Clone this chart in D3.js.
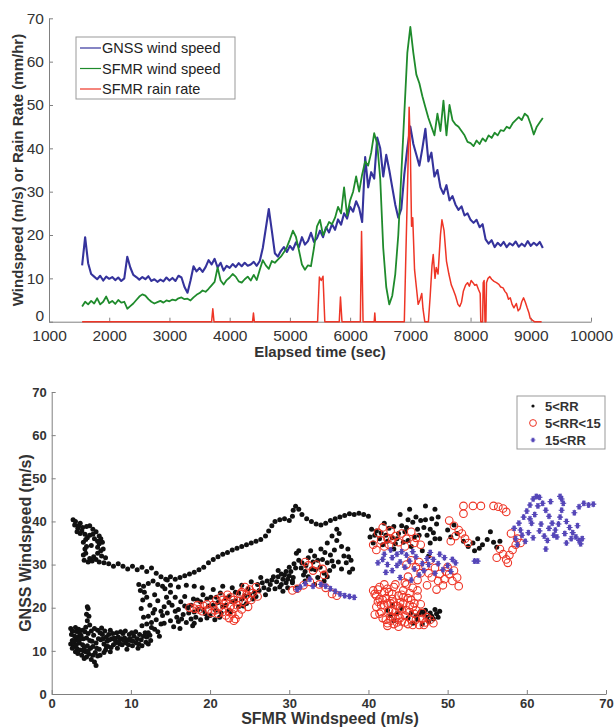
<!DOCTYPE html>
<html>
<head>
<meta charset="utf-8">
<script src="https://cdn.jsdelivr.net/npm/d3@7"></script>
<style>
  html, body { margin: 0; padding: 0; background: #fff; }
  svg { display: block; font-family: "Liberation Sans", Arial, sans-serif; }
</style>
</head>
<body>
<div id="chart"></div>
<script>
// ---- top panel data ----
const timeSec = [
  1550,1600,1650,1700,1750,1800,1850,1900,1950,2000,
  2050,2100,2150,2200,2250,2300,2350,2400,2450,2500,
  2550,2600,2650,2700,2750,2800,2850,2900,2950,3000,
  3050,3100,3150,3200,3250,3300,3350,3400,3450,3500,
  3550,3600,3650,3700,3750,3800,3850,3900,3950,4000,
  4050,4100,4150,4200,4250,4300,4350,4400,4450,4500,
  4550,4600,4650,4700,4750,4800,4850,4900,4950,5000,
  5050,5100,5150,5200,5250,5300,5350,5400,5450,5500,
  5550,5600,5650,5700,5750,5800,5850,5900,5950,6000,
  6050,6100,6150,6200,6250,6300,6350,6400,6450,6500,
  6550,6600,6650,6700,6750,6800,6850,6900,6950,7000,
  7050,7100,7150,7200,7250,7300,7350,7400,7450,7500,
  7550,7600,7650,7700,7750,7800,7850,7900,7950,8000,
  8050,8100,8150,8200,8250,8300,8350,8400,8450,8500,
  8550,8600,8650,8700,8750,8800,8850,8900,8950,9000,
  9050,9100,9150,9200
];
const gnssWind = [
  13,19.5,13.5,11,10.4,9.8,10.6,9.5,10.4,9.9,
  10.3,9.6,10.2,9.4,10,15,12.5,10.8,10.3,9.7,
  10.3,9.8,10.5,9.4,9.8,9.2,9.7,9.3,10.2,9.5,
  10.1,9.4,10.6,10.2,8,6.7,9.5,12.8,11.6,12.4,
  11.5,12.6,14.2,13.2,14.5,12.5,13.6,11.8,12.9,12.4,
  13.3,12.6,13.5,12.8,13.6,12.9,13.2,13.8,12.9,14,
  17,21.5,26,21,15.8,15,16.3,17.2,16.1,17.5,
  16.6,18.3,17.2,19.5,17.8,18.6,20.5,18.4,19.3,21,
  19.5,21.8,20.6,22.5,21.2,23.6,22.4,25,23.8,26.5,
  25.4,27.8,26.2,23,38,31,34.5,33,42.5,40,
  33.5,38.5,35,31,27,24,26,34,40,45,
  41,38.5,36,40,44.5,37,39,33.5,35,31,
  29.5,31.5,28,29,27,25.8,26.6,24.5,25,23.5,
  22.8,23.5,21.8,22.5,19,18,18.8,17.2,18.2,17.5,
  18.4,17.2,18.1,17.6,18.5,17.3,18,17.4,18.6,17.5,
  18.2,17.6,18.4,17
];
const sfmrWind = [
  3.5,4.6,4,4.8,4.2,5.4,4,4.6,5.8,4.3,
  4.8,4.1,5,4.4,4.6,3,3.6,4.2,5,5.8,
  6.3,6,5.2,4.6,4.2,4.5,4.8,4.4,4.9,4.7,
  5.1,4.9,5.4,5.6,5.2,5.3,4.9,5.6,6.2,6.6,
  7.2,6.9,7.6,8.4,9.2,12.5,9.5,8.6,9.6,10.2,
  11,10.4,9.3,9,9.8,10.4,9.5,10.8,9.6,12,
  14.2,13,12.2,14,13.6,14.3,15,16,17.2,19,
  21,19.6,16.5,13.2,12,13,12.8,17,22,23.5,
  20,21.5,23,22.5,24,26.5,25,31,24.5,28,
  30,33.5,30,34,37,36,39,43.5,41,33,
  17,8,4,6,11,20,34,48,62,68,
  62,57,55,52,49.5,47,45,43,48,44,
  51,43,50,46.5,45.5,45,44,43,41.5,41.2,
  40.5,41.8,41,42.3,41.6,43,42.4,43.6,43,44.2,
  44,45,44.6,45.8,46.5,47.2,46.5,48,47.4,45.5,
  43.2,45,46,47
];
const rainTime = [
  1550,3700,3720,3740,4380,4395,4410,5460,5490,5520,5550,5580,5820,5840,5865,
  6170,6190,6215,6400,6410,6420,6900,6925,6960,6980,7000,7020,7040,7070,7100,
  7130,7160,7190,7210,7240,7300,7330,7360,7380,7410,7430,7460,7500,7525,7560,
  7600,7640,7680,7710,7750,7790,7820,7850,7880,7920,7950,7980,8010,8040,8070,
  8100,8130,8160,8170,8200,8210,8225,8240,8255,8265,8290,8320,8350,8390,8430,
  8470,8500,8540,8570,8600,8630,8660,8690,8720,8760,8790,8820,8850,8880,8910,
  8940,8970,8990,9030,9060,9180
];
const rainRate = [
  0,0,3,0,0,2,0,0,10.3,9.5,10.5,0,0,5.7,0,
  0,20.8,0,0,2,0,0,15,35,49.5,40,22,24,12,8,
  4,5,6.5,3,0,0,6,13,15.5,10,12.5,11,20,23.5,21,
  14,11,8.5,7.5,6,4,3.5,4.5,7,8.5,9,8.2,9.5,9,8.4,
  8.6,7.5,6.5,0,0,9,9.5,0,0,9,10,10.4,9.8,9.3,9,
  8.6,8,7.8,7,6.5,5.2,5.5,4,3.2,4.2,2.5,3,4.6,5.5,4.5,
  3.2,2,0.8,0.3,0,0
];
const seriesNames = ['GNSS wind speed', 'SFMR wind speed', 'SFMR rain rate'];
const seriesColors = ['#35339c', '#1f8b2c', '#ee3526'];
const timeTicks = [1000,2000,3000,4000,5000,6000,7000,8000,9000,10000];
const speedTicks = [0,10,20,30,40,50,60,70];

// ---- bottom panel data: [SFMR windspeed, GNSS windspeed] ----
const lightRain = [
  [2.4,15.2],[2.5,13.8],[2.6,12.4],[2.4,11.6],[2.8,11],[3.0,12.6],[3.1,14.5],[3.3,13.2],[3.5,11.8],[3.2,10.5],
  [3.6,10.2],[3.9,11.4],[4.0,12.8],[4.2,14.4],[4.4,13.0],[4.5,11.2],[4.3,9.8],[4.7,9.2],[4.9,10.6],[5.1,12.2],
  [5.3,13.6],[5.0,14.6],[5.6,11.8],[5.5,9.6],[5.4,7.4],[5.6,6.6],[5.8,8.8],[6.0,10.4],[6.2,12.6],[6.4,13.8],
  [6.6,11.6],[6.8,10.2],[7.0,12.2],[7.2,13.8],[7.4,14.8],[7.6,12.8],[7.8,11.4],[8.0,12.6],[8.2,14.2],[8.4,13.2],
  [8.6,11.6],[8.8,12.8],[9.0,14.0],[9.2,13.0],[9.4,11.8],[9.6,12.6],[9.8,13.8],[10.0,12.4],[10.2,11.2],[10.4,13.4],
  [10.6,14.4],[10.8,12.8],[11.0,11.6],[11.3,12.6],[11.6,13.4],[11.9,12.0],[12.2,11.6],[12.5,12.4],
  [4.3,15.5],[4.5,17],[4.4,18.5],[4.6,19.8],[4.5,20.2],[4.7,18],[4.8,16],
  [3.0,9.8],[3.8,9.0],[4.1,8.2],[5.0,8.0],[6.1,9.0],[6.9,11.0],[7.5,10.8],[8.3,10.6],[9.5,10.4],[10.9,10.6],
  [2.9,13.4],[3.4,15.0],[5.8,14.8],[6.3,15.3],
  [2.6,14.6],[2.8,12.0],[3.1,11.4],[3.4,12.2],[3.7,13.6],[3.9,14.8],[3.5,14.2],[3.0,15.4],[4.1,10.6],[4.6,10.0],
  [4.8,12.4],[5.2,11.0],[5.2,9.0],[5.7,10.6],[5.9,12.8],[6.1,14.2],[6.5,12.8],[6.7,14.6],[6.9,13.2],[7.1,11.0],
  [7.3,12.6],[7.7,14.0],[7.9,13.0],[8.1,11.8],[8.5,12.2],[8.7,14.4],[8.9,11.4],[9.1,12.4],[9.3,14.6],[9.7,11.4],
  [9.9,12.8],[10.1,14.2],[10.3,12.2],[10.7,11.8],[11.1,13.8],[11.4,11.2],[11.8,14.2],[12.0,13.2],[12.4,13.6],[4.6,14.0],
  [5.4,15.2],[3.6,12.8],[4.0,10.0],[6.6,9.6],[7.4,9.8],[2.6,10.6],[3.3,9.4],[4.4,8.6],
  [11.4,15.8],[11.6,17.8],[11.3,19.8],[11.5,21.8],[11.7,23.6],[12.0,22.4],[12.4,20.6],[12.8,18.8],[12.6,16.6],[13.0,15.0],
  [13.4,14.4],[13.8,16.2],[14.0,18.2],[14.2,20.2],[14.5,22.4],[14.3,24.4],[14.6,26.4],[14.8,21.2],[15.0,17.0],[15.4,15.6],
  [15.8,17.8],[16.0,19.6],[16.3,21.4],[16.6,18.4],[17.0,16.6],[17.3,18.8],[17.6,20.6],[17.9,22.0],[18.2,17.8],[18.5,19.6],
  [18.8,21.4],[19.1,23.0],[19.4,18.6],[19.8,20.4],[20.1,22.4],[20.4,24.2],[20.7,19.4],[21.0,21.2],[21.3,23.4],[21.6,25.0],
  [22.0,20.6],[22.4,22.6],[22.8,24.6],[23.2,21.6],[23.6,23.4],[24.0,25.2],[24.4,22.8],[24.8,24.4],[25.2,26.0],[25.6,23.6],
  [26.0,25.4],[26.4,27.0],[26.8,24.6],[27.2,26.2],[27.6,25.4],[28.0,27.2],[28.4,26.0],[28.8,24.8],[29.2,26.6],[29.6,25.8],
  [30.0,27.4],[30.4,26.2],
  [13.2,17.2],[15.6,19.2],[16.8,20.4],[18.0,16.4],[19.6,17.6],[21.4,18.8],[12.2,14.2],[13.6,13.4],[16.2,15.2],[17.8,15.8],
  [22.6,19.0],[24.2,20.4],[25.4,22.0],[27.0,23.0],[20.6,17.2],
  [12.6,15.4],[13.0,19.6],[13.4,21.6],[13.8,19.2],[14.2,16.4],[14.6,18.8],[15.2,20.6],[15.6,22.4],[16.0,16.8],[16.4,17.4],
  [16.8,22.6],[17.2,20.0],[17.6,17.4],[18.0,19.0],[18.4,21.8],[18.8,17.2],[19.2,19.4],[19.6,22.0],[20.0,18.2],[20.4,20.6],
  [20.8,22.4],[21.2,17.8],[21.6,20.2],[22.0,22.2],[22.4,19.4],[22.8,21.4],[23.2,23.6],[23.6,20.2],[24.0,22.0],[24.6,21.0],
  [25.0,23.0],[25.8,22.6],[26.2,24.0],[26.6,25.8],[27.4,24.2],[27.8,26.4],[28.2,24.4],[28.6,27.2],[29.0,25.4],[29.4,27.6],
  [29.8,26.6],[15.0,23.6],[13.0,23.0],[12.2,18.0],[12.0,16.2],
  [2.7,40.4],[2.9,39.2],[3.3,38.4],[3.6,37.2],[3.9,38.6],[4.2,37.0],[4.5,36.2],[4.0,35.2],[4.2,33.6],[4.0,32.2],
  [4.1,31.0],[4.6,30.6],[5.1,30.8],[5.6,31.2],[6.0,30.6],[6.3,32.0],[6.5,33.6],[6.4,35.2],[6.0,36.6],[5.6,37.6],
  [5.2,38.2],[4.8,39.0],[5.4,36.0],[5.0,34.4],[5.8,34.0],[6.8,31.6],[3.6,39.6],[4.4,38.8],
  [3.0,40.0],[3.4,39.0],[3.8,37.8],[4.3,35.8],[4.4,34.2],[4.3,32.6],[4.8,31.4],[5.3,31.8],[5.8,32.6],[6.2,33.2],
  [6.0,34.8],[6.2,36.0],[5.8,35.4],[5.2,37.0],[4.8,36.8],[3.2,37.6],[6.6,30.4],
  [7.2,30.2],[7.8,29.6],[8.4,30.2],[9.0,29.6],[9.6,29.0],[10.2,29.6],[10.8,28.8],[11.4,29.4],[12.0,28.4],[12.6,29.2],
  [13.2,28.0],[13.8,27.2],[14.4,26.6],[15.0,27.2],[15.6,26.6],[16.2,27.0],[16.8,27.4],[17.4,27.8],[18.0,28.2],[18.6,28.8],
  [19.2,29.4],[19.8,30.4],[20.4,31.2],[21.0,31.8],[21.6,32.4],[22.2,32.8],[22.8,33.4],[23.4,33.8],[24.0,34.2],[24.6,34.6],
  [25.2,35.0],[25.8,35.4],[26.4,35.8],[27.0,36.6],[27.4,37.8],[27.8,39.0],[28.2,40.0],[28.8,40.4],[29.4,40.6],[30.0,40.2],
  [30.4,41.2],[30.5,42.6],[30.8,43.5],[31.2,42.8],[31.6,41.6],[32.2,40.6],[32.8,40.0],[33.4,39.4],[34.0,39.2],[34.6,39.6],
  [35.2,40.2],[35.8,40.6],[36.4,41.0],[37.0,41.4],[37.6,41.8],[38.2,41.6],[38.8,41.9],[39.4,41.6],[40.0,41.2],
  [11.0,25.4],[11.6,25.0],[12.2,25.6],[12.8,26.2],[13.4,25.4],[14.0,25.0],[15.0,25.2],[16.0,24.8],[17.0,25.2],[18.0,25.0],
  [19.0,24.6],[11.2,24.0],
  [30.2,28.4],[30.6,30.2],[30.9,32.6],[31.2,31.0],[31.5,29.2],[31.8,27.6],[32.1,29.8],[32.4,31.6],[32.7,33.2],[33.0,30.6],
  [33.3,28.8],[33.6,27.0],[33.9,29.4],[34.2,31.2],[34.5,32.8],[34.8,30.4],[35.1,28.6],[35.4,30.8],[35.7,33.4],[36.0,35.6],
  [36.3,37.2],[36.6,34.2],[36.9,32.0],[37.2,30.4],[37.5,31.8],[34.8,35.0],[35.4,36.6],[36.0,38.2],[32.0,26.2],[33.2,25.4],
  [34.4,26.2],[30.4,25.8],[31.0,24.6],[29.8,24.6],[29.2,23.8],[37.4,33.6],[37.8,31.0],[38.0,29.0],[37.6,28.2],
  [30.5,27.0],[30.8,29.2],[31.2,33.2],[31.6,30.4],[32.0,28.4],[32.4,27.2],[32.8,29.0],[33.2,32.0],[33.6,31.0],[34.0,33.6],
  [34.4,28.0],[34.8,27.2],[35.2,32.2],[35.6,29.6],[36.2,30.6],[36.6,29.0],[30.0,29.4],[29.6,28.4],[29.0,27.8],[28.6,28.6],
  [40.2,36.4],[40.6,35.0],[41.0,37.8],[41.4,36.0],[41.8,34.6],[42.2,36.8],[42.6,38.4],[43.0,36.2],[43.4,34.8],[43.8,37.2],
  [44.2,39.0],[44.6,37.6],[45.0,35.6],[45.4,34.2],[45.8,36.4],[46.2,38.2],[46.6,40.2],[47.0,38.6],[47.4,36.8],[47.8,35.0],
  [48.2,37.4],[48.6,39.4],[48.4,42.8],[48.8,41.0],[49.0,36.0],[44.0,41.6],[45.2,42.8],[46.0,41.0],[47.2,43.6],[43.2,33.6],
  [46.8,33.2],[47.6,32.0],
  [40.4,38.2],[40.8,36.8],[41.6,37.4],[42.4,35.4],[43.2,38.8],[43.6,36.0],[44.4,35.2],[44.8,38.6],[45.6,39.8],[46.4,36.8],
  [47.2,40.4],[47.8,38.2],[48.4,36.0],[48.0,40.6],[42.0,39.6],[45.0,40.4],
  [50.0,38.0],[50.4,36.4],[50.8,39.2],[51.2,37.2],[52.0,35.4],[52.6,34.2],[53.2,35.0],[53.8,36.0],[54.4,34.6],[55.0,35.8],
  [55.4,37.6],[55.8,35.2],[56.2,34.0],[56.6,35.4],[54.0,33.8],[53.4,33.2],
  [42.4,19.4],[42.8,18.2],[43.2,17.0],[43.6,18.6],[44.2,19.8],[45.0,17.6],[45.6,16.4],[46.2,17.2],[46.8,16.2],[47.4,17.8],
  [47.8,18.8],[48.2,17.4],[48.6,18.6],[49.0,19.2],[46.4,18.6],[45.4,18.8],[43.0,20.6],
  [46.6,19.2],[47.0,18.6],[47.6,16.8],[48.0,18.0],[48.4,19.6],[48.8,17.8],[47.2,19.4],[46.0,18.0]
];
const midRain = [
  [17.4,20.0],[18.0,19.8],[18.6,19.6],[19.2,20.4],[19.8,19.6],[20.4,20.6],[20.8,21.8],[21.2,20.2],[21.6,19.0],[22.0,18.2],
  [22.4,17.6],[22.8,18.6],[23.2,17.4],[23.6,18.4],[24.0,19.6],[21.4,22.6],[22.0,21.4],[22.6,20.4],[23.0,21.8],[23.4,20.6],
  [24.2,21.4],[24.6,23.0],[25.0,24.2],[25.4,23.4],[25.8,24.8],[24.4,24.8],[23.8,23.2],[22.2,23.0],[20.2,18.8],[24.8,20.2],
  [26.0,22.6],
  [18.4,20.6],[19.0,19.2],[19.6,20.8],[20.6,19.4],[21.0,18.6],[21.8,20.8],[22.4,19.0],[23.0,19.8],[23.6,21.6],[24.0,23.6],
  [24.8,22.2],[25.2,21.8],[23.0,17.0],[22.6,22.4],[21.6,21.8],
  [30.4,24.0],[31.0,24.4],[31.8,25.2],[32.6,26.0],[33.0,28.6],[32.4,29.8],[32.0,30.6],[33.4,30.0],[34.2,29.0],[34.4,27.6],
  [33.8,25.4],[34.6,24.6],[35.4,23.2],[36.0,22.8],
  [41.2,37.4],[41.6,35.6],[42.0,34.2],[42.4,36.0],[42.8,37.8],[43.4,36.6],[43.8,35.2],[44.2,37.2],[44.8,36.0],[45.4,37.6],
  [46.0,36.2],[46.6,34.6],[41.8,38.6],[40.6,34.6],[41.0,33.4],
  [42.6,34.6],[43.0,35.8],[44.6,34.2],[45.8,35.0],
  [40.6,24.0],[41.0,22.8],[41.2,21.4],[41.0,20.2],[41.6,19.0],[42.0,20.6],[42.2,22.2],[42.6,23.6],[42.8,21.0],[43.0,19.4],
  [43.4,17.6],[43.2,16.2],[43.8,15.6],[44.2,16.8],[44.6,18.2],[44.2,19.6],[44.0,21.2],[43.8,22.8],[44.4,24.0],[44.8,25.4],
  [45.2,23.4],[45.4,21.8],[45.6,20.2],[45.8,18.6],[46.0,17.2],[46.4,16.0],[46.8,17.4],[47.2,16.6],[47.8,17.2],[48.2,16.4],
  [41.8,17.6],[42.4,16.4],[42.8,18.0],[43.6,20.4],[45.0,16.2],[44.4,22.4],[43.2,24.8],[42.0,25.4],[45.6,24.6],[46.2,22.6],
  [41.4,24.8],[40.8,18.4],[42.4,15.8],[45.2,19.0],[43.0,22.0],
  [40.8,23.2],[41.2,24.2],[41.4,22.0],[41.6,20.6],[41.4,18.6],[41.8,21.8],[42.0,23.6],[42.4,24.4],[42.4,21.0],[42.6,19.2],
  [42.8,17.0],[43.0,23.2],[43.2,21.2],[43.4,19.0],[43.6,16.6],[43.8,18.2],[44.0,20.0],[44.2,23.0],[44.4,21.0],[44.6,16.6],
  [44.8,19.4],[45.0,22.2],[45.2,20.6],[45.4,17.2],[45.8,21.0],[46.0,19.4],[46.2,24.0],[46.6,20.8],[46.8,18.8],[47.0,16.0],
  [47.4,17.8],[45.6,16.0],[44.0,17.6],[42.2,17.2],[43.4,25.4],[44.6,25.8],
  [44.8,30.0],[45.4,31.0],[46.0,29.4],[46.6,28.0],[47.2,29.6],[47.8,31.0],[48.4,29.2],[49.0,27.8],[49.6,26.6],[50.2,27.8],
  [50.6,26.2],[51.2,27.0],[49.4,25.2],[48.6,24.2],[47.4,25.2],[46.2,26.4],[48.0,27.0],[50.0,29.4],[45.0,27.2],[51.4,25.0],
  [46.4,30.6],[47.6,28.0],[48.8,26.2],[49.8,28.4],[50.8,28.6],
  [50.2,40.2],[50.8,39.0],[51.4,38.0],[51.8,37.2],[52.2,36.0],[52.6,35.0],[51.0,36.6],[50.4,35.4],[52.0,41.8],[52.0,43.6],
  [53.2,43.6],[54.2,43.6],[55.8,43.6],[56.4,43.4],[57.0,43.0],[57.4,42.2],
  [56.6,33.6],[57.0,32.4],[57.4,31.2],[57.8,32.2],[58.2,33.4],[58.6,34.6],[58.8,36.0],[59.2,35.0],[57.6,30.4],[56.2,31.6],
  [58.0,37.2]
];
const heavyRain = [
  [31.0,24.2],[31.4,24.8],[32.0,25.6],[32.6,26.6],[33.0,25.0],
  [34.0,25.4],[34.6,25.0],[35.2,24.4],[35.8,23.8],[36.4,23.2],[37.0,22.8],[37.6,22.6],[38.2,22.4],
  [41.2,30.4],[41.8,31.2],[42.4,30.0],[43.0,31.6],[43.6,32.4],[44.0,30.6],[44.6,29.4],[45.2,30.8],[45.8,29.0],[46.4,27.6],
  [47.0,28.6],[47.6,30.0],[48.2,31.2],[48.8,30.2],[49.4,28.8],[50.0,29.8],[50.6,31.2],[49.0,32.4],[47.8,32.8],[46.0,31.8],
  [44.2,33.0],[43.0,28.6],[44.0,27.0],[45.4,26.4],[42.2,28.2],[51.0,30.4],[53.4,30.8],[53.8,30.8],
  [42.0,32.4],[42.8,33.4],[44.8,32.2],[45.6,33.0],[46.8,30.2],[47.4,31.4],[48.4,28.0],[49.6,31.6],[50.4,28.4],[43.6,29.8],
  [58.4,38.4],[59.0,39.6],[59.6,41.0],[60.0,42.4],[60.4,43.8],[60.8,45.2],[61.2,45.8],[61.6,45.6],[62.0,44.2],[62.4,42.6],
  [62.8,41.2],[63.2,39.6],[63.6,38.0],[64.0,39.4],[64.2,41.0],[64.4,42.6],[64.6,44.2],[64.4,45.2],[65.0,40.0],[65.4,38.6],
  [65.8,37.4],[66.2,36.4],[66.6,35.6],[66.8,34.8],[66.0,42.0],[66.6,43.4],[67.2,44.2],[67.8,43.8],[68.4,44.0],[62.2,36.6],
  [62.6,35.6],[62.4,33.6],[61.6,37.8],[60.6,39.6],[61.0,41.6],[63.8,36.4],[65.0,35.0],[59.4,36.8],[58.8,34.6],[60.2,37.4],
  [59.2,38.0],[60.4,40.6],[61.4,43.6],[62.8,38.4],[63.4,36.8],[64.8,37.2],[65.6,36.0],[66.4,39.0],[67.0,36.0],[63.0,44.6],
  [64.2,45.8],[61.8,39.4],[60.8,36.2],[59.8,35.4],[58.6,36.0]
];
const rainClasses = ['5<RR', '5<RR<15', '15<RR'];
const windTicks = [0,10,20,30,40,50,60,70];

const W = 614, H = 727;
const axisColor = '#808080';
const textColor = '#333';

const svg = d3.select('#chart').append('svg')
  .attr('width', W)
  .attr('height', H);

// ================= top panel =================
const x1 = d3.scaleLinear().domain([1000, 10000]).range([49, 591]);
const y1 = d3.scaleLinear().domain([0, 70]).range([321.7, 18.3]);

const topPanel = svg.append('g');

// axes (matlab style, ticks inside)
const xAxis1 = topPanel.append('g')
  .attr('transform', `translate(0,${y1(0)})`)
  .call(d3.axisBottom(x1).tickValues(timeTicks).tickSizeInner(-4).tickSizeOuter(0).tickPadding(8).tickFormat(d3.format('d')));
const yAxis1 = topPanel.append('g')
  .attr('transform', `translate(${x1(1000)},0)`)
  .call(d3.axisLeft(y1).tickValues(speedTicks).tickSizeInner(-4).tickSizeOuter(0).tickPadding(5));
[xAxis1, yAxis1].forEach(a => {
  a.select('.domain').attr('stroke', axisColor);
  a.selectAll('.tick line').attr('stroke', axisColor);
  a.selectAll('.tick text')
    .style('font-size', '15.5px')
    .style('font-family', '"Liberation Sans", Arial, sans-serif')
    .attr('fill', textColor);
});
// lift the "0" a little so it clears the "1000" below it
yAxis1.selectAll('.tick text').filter(d => d === 0).attr('dy', '-0.05em');

const line1 = d3.line().x(d => x1(d[0])).y(d => y1(d[1]));
const topSeries = [
  d3.zip(timeSec, gnssWind),
  d3.zip(timeSec, sfmrWind),
  d3.zip(rainTime, rainRate)
];
const seriesWidths = [2.1, 1.8, 1.5];
topSeries.forEach((s, i) => {
  topPanel.append('path')
    .datum(s)
    .attr('fill', 'none')
    .attr('stroke', seriesColors[i])
    .attr('stroke-width', seriesWidths[i])
    .attr('stroke-linejoin', 'round')
    .attr('d', line1);
});

// axis titles
topPanel.append('text')
  .attr('transform', `translate(23,${(y1(0) + y1(70)) / 2}) rotate(-90)`)
  .attr('text-anchor', 'middle')
  .style('font-size', '15px')
  .style('font-weight', 'bold')
  .attr('fill', textColor)
  .text('Windspeed (m/s) or Rain Rate (mm/hr)');
topPanel.append('text')
  .attr('x', (x1(1000) + x1(10000)) / 2)
  .attr('y', 357)
  .attr('text-anchor', 'middle')
  .style('font-size', '15px')
  .style('font-weight', 'bold')
  .attr('fill', textColor)
  .text('Elapsed time (sec)');

// legend
const leg1 = topPanel.append('g').attr('transform', 'translate(76,37)');
leg1.append('rect')
  .attr('width', 159).attr('height', 62)
  .attr('fill', '#fff').attr('stroke', '#999');
seriesNames.forEach((name, i) => {
  const yy = 11 + i * 20.5;
  leg1.append('line')
    .attr('x1', 4).attr('x2', 25).attr('y1', yy).attr('y2', yy)
    .attr('stroke', seriesColors[i]).attr('stroke-width', 1.2);
  leg1.append('text')
    .attr('x', 26).attr('y', yy + 5)
    .style('font-size', '14.5px')
    .attr('fill', '#222')
    .text(name);
});

// ================= bottom panel =================
const x2 = d3.scaleLinear().domain([0, 70]).range([51.7, 606]);
const y2 = d3.scaleLinear().domain([0, 70]).range([694, 392]);

const botPanel = svg.append('g');
const xAxis2 = botPanel.append('g')
  .attr('transform', `translate(0,${y2(0)})`)
  .call(d3.axisBottom(x2).tickValues(windTicks).tickSizeInner(-4).tickSizeOuter(0).tickPadding(5));
const yAxis2 = botPanel.append('g')
  .attr('transform', `translate(${x2(0)},0)`)
  .call(d3.axisLeft(y2).tickValues(windTicks).tickSizeInner(-4).tickSizeOuter(0).tickPadding(5));
[xAxis2, yAxis2].forEach(a => {
  a.select('.domain').attr('stroke', axisColor);
  a.selectAll('.tick line').attr('stroke', axisColor);
  a.selectAll('.tick text')
    .style('font-size', '13px')
    .style('font-weight', 'bold')
    .style('font-family', '"Liberation Sans", Arial, sans-serif')
    .attr('fill', textColor);
});

// markers
const asterisk = r => {
  let p = '';
  [0, 60, 120].forEach(a => {
    const rad = a * Math.PI / 180;
    const dx = r * Math.cos(rad), dy = r * Math.sin(rad);
    p += `M${-dx},${-dy}L${dx},${dy}`;
  });
  return p + `M0,${-r}L0,${r}`;
};

botPanel.append('g').selectAll('circle')
  .data(lightRain).enter().append('circle')
  .attr('cx', d => x2(d[0])).attr('cy', d => y2(d[1]))
  .attr('r', 2.5)
  .attr('fill', '#111');

botPanel.append('g').selectAll('circle')
  .data(midRain).enter().append('circle')
  .attr('cx', d => x2(d[0])).attr('cy', d => y2(d[1]))
  .attr('r', 3.8)
  .attr('fill', 'none')
  .attr('stroke', '#ee3526')
  .attr('stroke-width', 1.1);

const heavy = botPanel.append('g').selectAll('g')
  .data(heavyRain).enter().append('g')
  .attr('transform', d => `translate(${x2(d[0])},${y2(d[1])})`);
heavy.append('circle').attr('r', 1.9).attr('fill', '#4a3db0');
heavy.append('path').attr('d', asterisk(3)).attr('stroke', '#5546b8').attr('stroke-width', 1.1);

// axis titles
botPanel.append('text')
  .attr('transform', `translate(31,${(y2(0) + y2(70)) / 2}) rotate(-90)`)
  .attr('text-anchor', 'middle')
  .style('font-size', '16px')
  .style('font-weight', 'bold')
  .attr('fill', textColor)
  .text('GNSS Windspeed (m/s)');
botPanel.append('text')
  .attr('x', 330)
  .attr('y', 724)
  .attr('text-anchor', 'middle')
  .style('font-size', '16px')
  .style('font-weight', 'bold')
  .attr('fill', textColor)
  .text('SFMR Windspeed (m/s)');

// legend
const leg2 = botPanel.append('g').attr('transform', 'translate(517,396)');
leg2.append('rect')
  .attr('width', 88).attr('height', 53)
  .attr('fill', '#fff').attr('stroke', '#999');
rainClasses.forEach((name, i) => {
  const yy = 10 + i * 17;
  const mk = leg2.append('g').attr('transform', `translate(16,${yy})`);
  if (i === 0) mk.append('circle').attr('r', 1.6).attr('fill', '#111');
  if (i === 1) mk.append('circle').attr('r', 3.4).attr('fill', 'none').attr('stroke', '#ee3526');
  if (i === 2) {
    mk.append('circle').attr('r', 1.5).attr('fill', '#4a3db0');
    mk.append('path').attr('d', asterisk(2.4)).attr('stroke', '#5546b8').attr('stroke-width', 1);
  }
  leg2.append('text')
    .attr('x', 28).attr('y', yy + 4.5)
    .style('font-size', '13px')
    .style('font-weight', 'bold')
    .attr('fill', textColor)
    .text(name);
});
</script>
</body>
</html>
